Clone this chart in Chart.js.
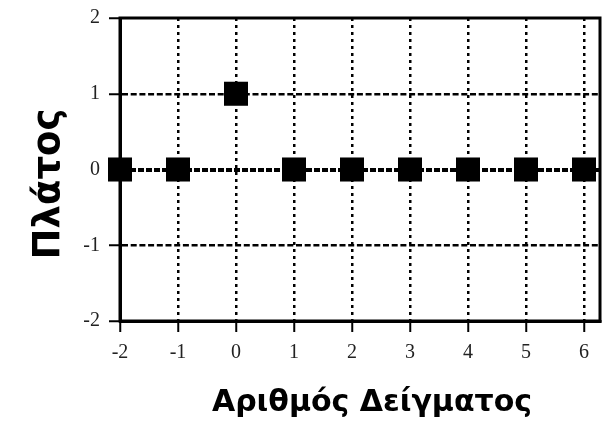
<!DOCTYPE html>
<html><head><meta charset="utf-8">
<script src="https://cdn.jsdelivr.net/npm/chart.js@4"></script>
<style>html,body{margin:0;padding:0;background:#fff;} canvas{display:block;}</style>
</head><body>
<canvas id="c" width="603" height="427"></canvas>
<script>
const sampleIndex = [-2, -1, 0, 1, 2, 3, 4, 5, 6];
const amplitude   = [0, 0, 1, 0, 0, 0, 0, 0, 0];
const xTicks = [-2, -1, 0, 1, 2, 3, 4, 5, 6];
const yTicks = [-2, -1, 0, 1, 2];
const xTitle = 'Αριθμός Δείγματος';
const yTitle = 'Πλάτος';

const points = sampleIndex.map((x, i) => ({ x: x, y: amplitude[i] }));

const boxPlugin = {
  id: 'box',
  beforeDatasetsDraw(chart) {
    const a = chart.chartArea, ctx = chart.ctx;
    ctx.save();
    ctx.strokeStyle = '#000';
    ctx.lineWidth = 3;
    ctx.setLineDash([]);
    ctx.strokeRect(a.left, a.top, a.right - a.left, a.bottom - a.top);
    ctx.restore();
  }
};

const titlePlugin = {
  id: 'titles',
  afterDraw(chart) {
    const ctx = chart.ctx, a = chart.chartArea;
    ctx.save();
    ctx.fillStyle = '#000';
    ctx.font = 'bold 30px "DejaVu Sans"';
    ctx.textAlign = 'center';
    ctx.textBaseline = 'alphabetic';
    ctx.fillText(xTitle, a.left + 252, a.bottom + 90);
    ctx.translate(a.left - 61, a.top + 166);
    ctx.rotate(-Math.PI / 2);
    ctx.font = 'bold 37px "DejaVu Sans"';
    ctx.fillText(yTitle, 0, 0);
    ctx.restore();
  }
};

// keep the tick-label overflow from shrinking the plot area
function noLabelPadding(s) {
  s._calculatePadding = function () {
    this.paddingLeft = 0; this.paddingRight = 0; this.paddingTop = 0; this.paddingBottom = 0;
  };
}

new Chart(document.getElementById('c'), {
  type: 'scatter',
  data: {
    datasets: [{
      data: points,
      pointStyle: 'rect',
      pointRadius: 17,
      pointHoverRadius: 17,
      backgroundColor: '#000',
      borderWidth: 0,
      showLine: false,
      clip: false
    }]
  },
  options: {
    responsive: false,
    animation: false,
    events: [],
    layout: { autoPadding: false, padding: { left: 0, right: 3, top: 18, bottom: 0 } },
    plugins: { legend: { display: false }, tooltip: { enabled: false } },
    scales: {
      x: {
        type: 'linear',
        min: -2,
        max: 6.276,
        beforeUpdate: noLabelPadding,
        afterBuildTicks: s => { s.ticks = xTicks.map(v => ({ value: v })); },
        afterFit: s => { s.height = 106; },
        grid: {
          color: c => (c.tick && c.tick.value === -2) ? 'rgba(0,0,0,0)' : '#000',
          lineWidth: 2.5,
          drawTicks: true,
          tickLength: 11,
          tickColor: '#000',
          tickWidth: 2
        },
        border: { display: true, color: '#000', width: 3, dash: [3, 4] },
        ticks: {
          font: { family: '"Liberation Serif"', size: 20 },
          color: '#222',
          padding: 9,
          maxRotation: 0
        }
      },
      y: {
        min: -2,
        max: 2,
        beforeUpdate: noLabelPadding,
        afterBuildTicks: s => { s.ticks = yTicks.map(v => ({ value: v })); },
        afterFit: s => { s.width = 120; },
        grid: {
          color: c => (c.tick && (c.tick.value === -2 || c.tick.value === 2)) ? 'rgba(0,0,0,0)' : '#000',
          lineWidth: c => (c.tick && c.tick.value === 0) ? 4 : 2.5,
          drawTicks: true,
          tickLength: 11,
          tickColor: '#000',
          tickWidth: 2
        },
        border: { display: true, color: '#000', width: 3, dash: c => (c.tick && c.tick.value === 0) ? [6, 2] : [6, 2.7] },
        ticks: {
          font: { family: '"Liberation Serif"', size: 20 },
          color: '#222',
          padding: 9
        }
      }
    }
  },
  plugins: [boxPlugin, titlePlugin]
});
</script>
</body></html>
